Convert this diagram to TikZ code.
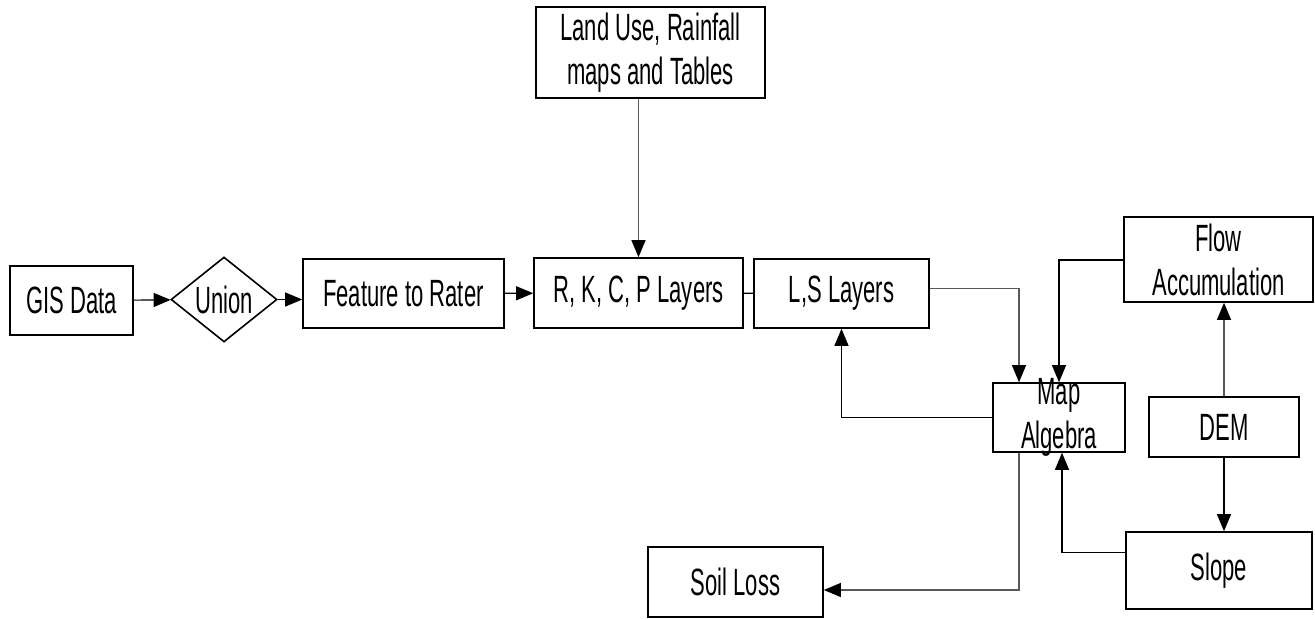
\documentclass[tikz,border=0pt]{standalone}
\usepackage{fontspec}
\setmainfont[FakeStretch=0.58]{Liberation Sans}
\usetikzlibrary{shapes.geometric,arrows.meta}

\tikzset{
    box/.style={draw, line width=1.6pt, inner sep=0pt, align=center},
    link/.style={line width=1.1pt},
    greylink/.style={link, draw=black!65},
    tip/.style={-{Triangle[width=14pt,length=17pt,black]}},
}

\begin{document}
\begin{tikzpicture}[x=1pt, y=-1pt, font=\fontsize{38}{44}\selectfont]
            \useasboundingbox (0,0) rectangle (1315,619);
            \node[box, minimum width=123pt, minimum height=69pt] (gis) at (71.5,300.5) {GIS Data};
            \node[box, diamond, aspect=1.25, minimum width=106pt, minimum height=85pt] (union) at (224,299.5) {Union};
            \node[box, minimum width=201pt, minimum height=69pt] (feature) at (403.5,293.5) {Feature to Rater};
            \node[box, minimum width=209pt, minimum height=70pt] (rkcp) at (638.5,293) {R, K, C, P Layers};
            \node[box, minimum width=175pt, minimum height=69pt] (ls) at (841.5,293.5) {L,S Layers};
            \node[box, minimum width=229pt, minimum height=91pt] (land) at (650.5,52.5) {Land Use, Rainfall\\maps and Tables};
            \node[box, minimum width=132pt, minimum height=69pt, label={[align=center]center:Map\\Algebra}] (map) at (1059,417.5) {};
            \node[box, minimum width=189pt, minimum height=85pt] (flow) at (1218.5,259.5) {Flow\\Accumulation};
            \node[box, minimum width=150pt, minimum height=60pt] (dem) at (1224,427) {DEM};
            \node[box, minimum width=186pt, minimum height=77pt] (slope) at (1219,570.5) {Slope};
            \node[box, minimum width=175pt, minimum height=70pt] (soil) at (735.5,582) {Soil Loss};

            \draw[link, tip] (gis) -- (union);
            \draw[link, tip] (union.east) -- (union.east -| feature.west);
            \draw[link, tip] (feature) -- (rkcp);
            \draw[link] (rkcp) -- (ls);
            \draw[greylink, tip] (land.south -| rkcp.north) -- (rkcp.north);
            \draw[greylink, tip] ([yshift=5pt]ls.east) -| ([xshift=-40pt]map.north);
            \draw[link, tip] ([yshift=-0.5pt]flow.west) -| (map.north);
            \draw[link, tip] (map.west) -| (ls.south);
            \draw[greylink, tip] ([xshift=-40pt]map.south) |- ([yshift=-8pt]soil.east);
            \draw[link, tip] ([yshift=18pt]slope.west) -| ([xshift=3pt]map.south);
            \draw[greylink, tip] (dem.north) -- (dem.north |- flow.south);
            \draw[link, tip] (dem.south) -- (dem.south |- slope.north);
        \end{tikzpicture}
\end{document}
